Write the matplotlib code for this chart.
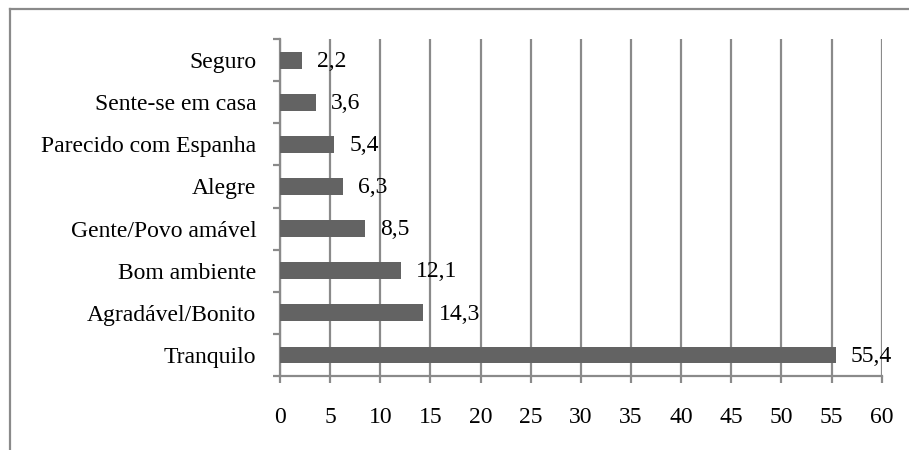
import matplotlib.pyplot as plt
from matplotlib.lines import Line2D

categories = ['Tranquilo', 'Agradável/Bonito', 'Bom ambiente',
              'Gente/Povo amável', 'Alegre', 'Parecido com Espanha',
              'Sente-se em casa', 'Seguro']
values = [55.4, 14.3, 12.1, 8.5, 6.3, 5.4, 3.6, 2.2]
value_labels = ['55,4', '14,3', '12,1', '8,5', '6,3', '5,4', '3,6', '2,2']
xticks = list(range(0, 61, 5))


def main():
    plt.rcParams['font.family'] = 'Liberation Serif'
    fig = plt.figure(figsize=(9.09, 4.5), dpi=100)
    ax = fig.add_axes([0.308, 0.1644, 0.662, 0.7489])

    pos = range(len(categories))
    ax.barh(pos, values, height=0.4, color='#636363', zorder=3)
    for y, v, lab in zip(pos, values, value_labels):
        ax.text(v + 1.5, y - 0.03, lab, va='center', ha='left',
                fontsize=17, color='black', zorder=4)

    ax.set_xlim(0, 60)
    ax.set_ylim(-0.5, len(categories) - 0.5)
    ax.set_xticks(xticks)
    ax.set_yticks(list(pos))
    ax.set_yticklabels(categories)
    ax.set_yticks([i - 0.5 for i in range(len(categories) + 1)], minor=True)

    ax.grid(axis='x', color='#8a8a8a', linewidth=1.6, zorder=0)
    for side in ['top', 'right']:
        ax.spines[side].set_visible(False)
    for side in ['left', 'bottom']:
        ax.spines[side].set_color('#8a8a8a')
        ax.spines[side].set_linewidth(1.6)

    ax.tick_params(axis='y', which='major', length=0, pad=17, labelsize=17)
    ax.tick_params(axis='y', which='minor', length=5, width=1.6,
                   color='#8a8a8a')
    ax.tick_params(axis='x', length=5, width=1.6, color='#8a8a8a',
                   pad=17, labelsize=17)

    # outer chart frame (clipped at right and bottom)
    fig.add_artist(Line2D([0.0105, 1.0], [0.98, 0.98], transform=fig.transFigure,
                          color='#8a8a8a', linewidth=1.6))
    fig.add_artist(Line2D([0.0105, 0.0105], [0.0, 0.98], transform=fig.transFigure,
                          color='#8a8a8a', linewidth=1.6))

    fig.savefig('out.png', dpi=100)


if __name__ == '__main__':
    main()
